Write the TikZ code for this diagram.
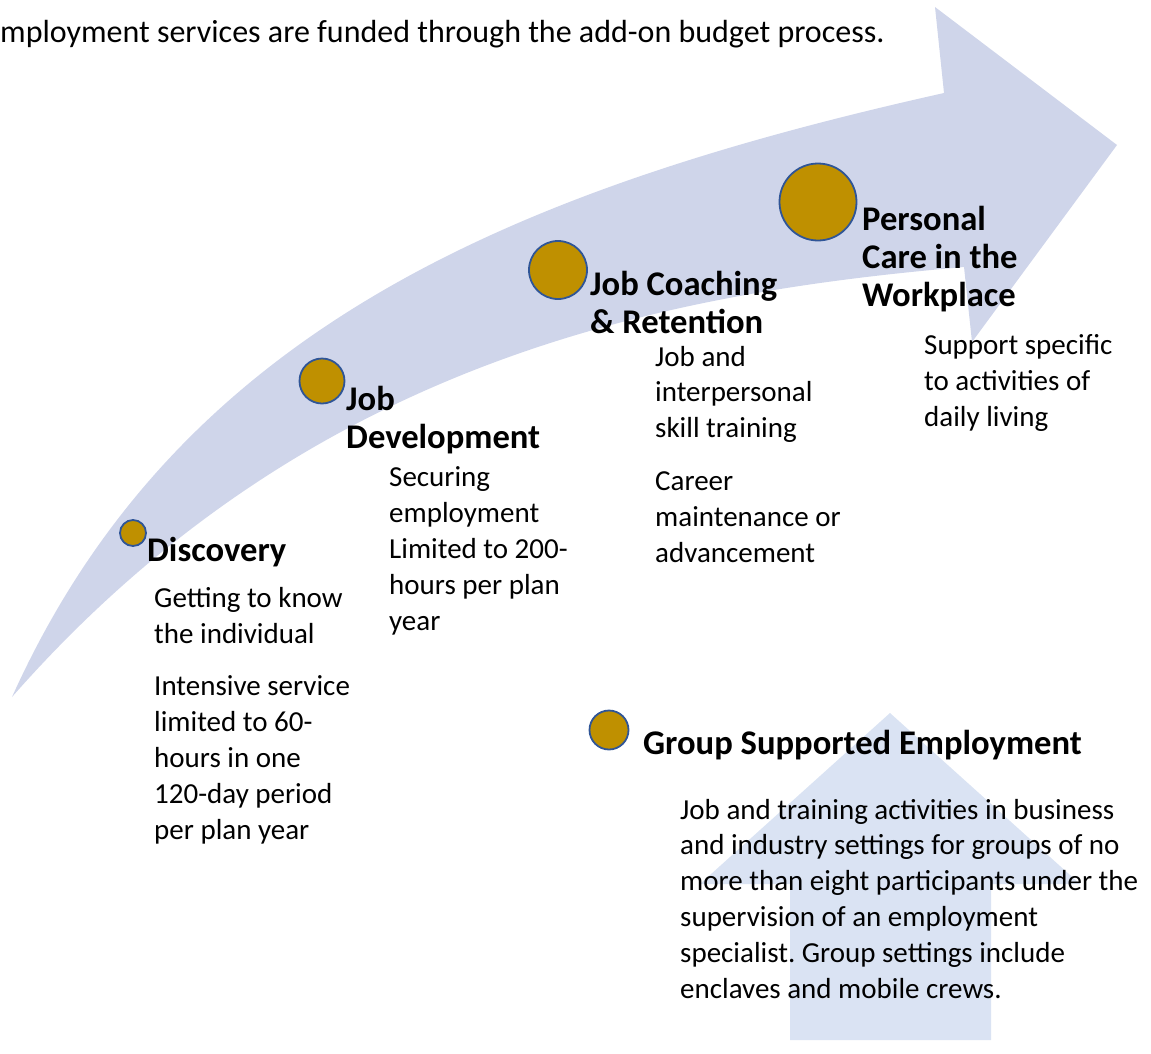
\documentclass[tikz,border=0pt]{standalone}
\usepackage{fontspec}
\setmainfont{Carlito}
\frenchspacing
\usetikzlibrary{positioning}
\definecolor{bandblue}{RGB}{207,213,234}
\definecolor{upblue}{RGB}{218,227,243}
\definecolor{dotgold}{RGB}{191,144,0}
\definecolor{dotrim}{RGB}{47,85,151}
\tikzset{
	dot/.style={circle, fill=dotgold, draw=dotrim, line width=1.8pt, minimum size=#1, inner sep=0pt},
	stage/.style={anchor=base west, inner sep=0pt, align=left, font=\fontsize{34.6}{38}\selectfont\bfseries},
	detail/.style={anchor=base west, inner sep=0pt, align=left, font=\fontsize{29}{35.8}\selectfont}
}

\begin{document}
\begin{tikzpicture}[x=1pt, y=-1pt]
		\useasboundingbox (0,0) rectangle (1151,1053);
		\fill[bandblue] (12,697) .. controls (176,333) and (505,191) .. (944,93) -- (935,7) -- (1117,145) -- (972,342) -- (964,267) .. controls (665,293) and (309,359) .. (12,697) -- cycle;
		\fill[upblue] (890,713) -- (1080,884) -- (991,884) -- (991,1040) -- (790,1040) -- (790,884) -- (700,884) -- cycle;
		\node[anchor=base west, inner sep=0pt, font=\fontsize{32}{38}\selectfont] (intro) at (0,42) {mployment services are funded through the add-on budget process.};
		\node[dot=26pt] (discdot) at (133,533) {};
		\node[dot=45pt] (devdot) at (322,381) {};
		\node[dot=58pt] (coachdot) at (558,270) {};
		\node[dot=77pt] (caredot) at (818,202) {};
		\node[dot=39pt] (groupdot) at (609,730) {};
		% base anchor sits on the last line of each block
		\node[stage] (disc) at (147,561) {Discovery};
		\node[detail] (disctext) at (154,839) {Getting to know\\the individual\\[17pt]Intensive service\\limited to 60-\\hours in one\\120-day period\\per plan year};
		\node[stage] (dev) at (346,448) {Job\\Development};
		\node[detail] (devtext) at (389,630) {Securing\\employment\\Limited to 200-\\hours per plan\\year};
		\node[stage] (coach) at (590,333) {Job Coaching\\\& Retention};
		\node[detail] (coachtext) at (655,562) {Job and\\interpersonal\\skill training\\[17pt]Career\\maintenance or\\advancement};
		\node[stage] (care) at (862,306) {Personal\\Care in the\\Workplace};
		\node[detail] (caretext) at (924,426) {Support specific\\to activities of\\daily living};
		\node[stage] (group) at (643,754) {Group Supported Employment};
		\node[detail] (grouptext) at (680,998) {Job and training activities in business\\and industry settings for groups of no\\more than eight participants under the\\supervision of an employment\\specialist. Group settings include\\enclaves and mobile crews.};
	\end{tikzpicture}
\end{document}
